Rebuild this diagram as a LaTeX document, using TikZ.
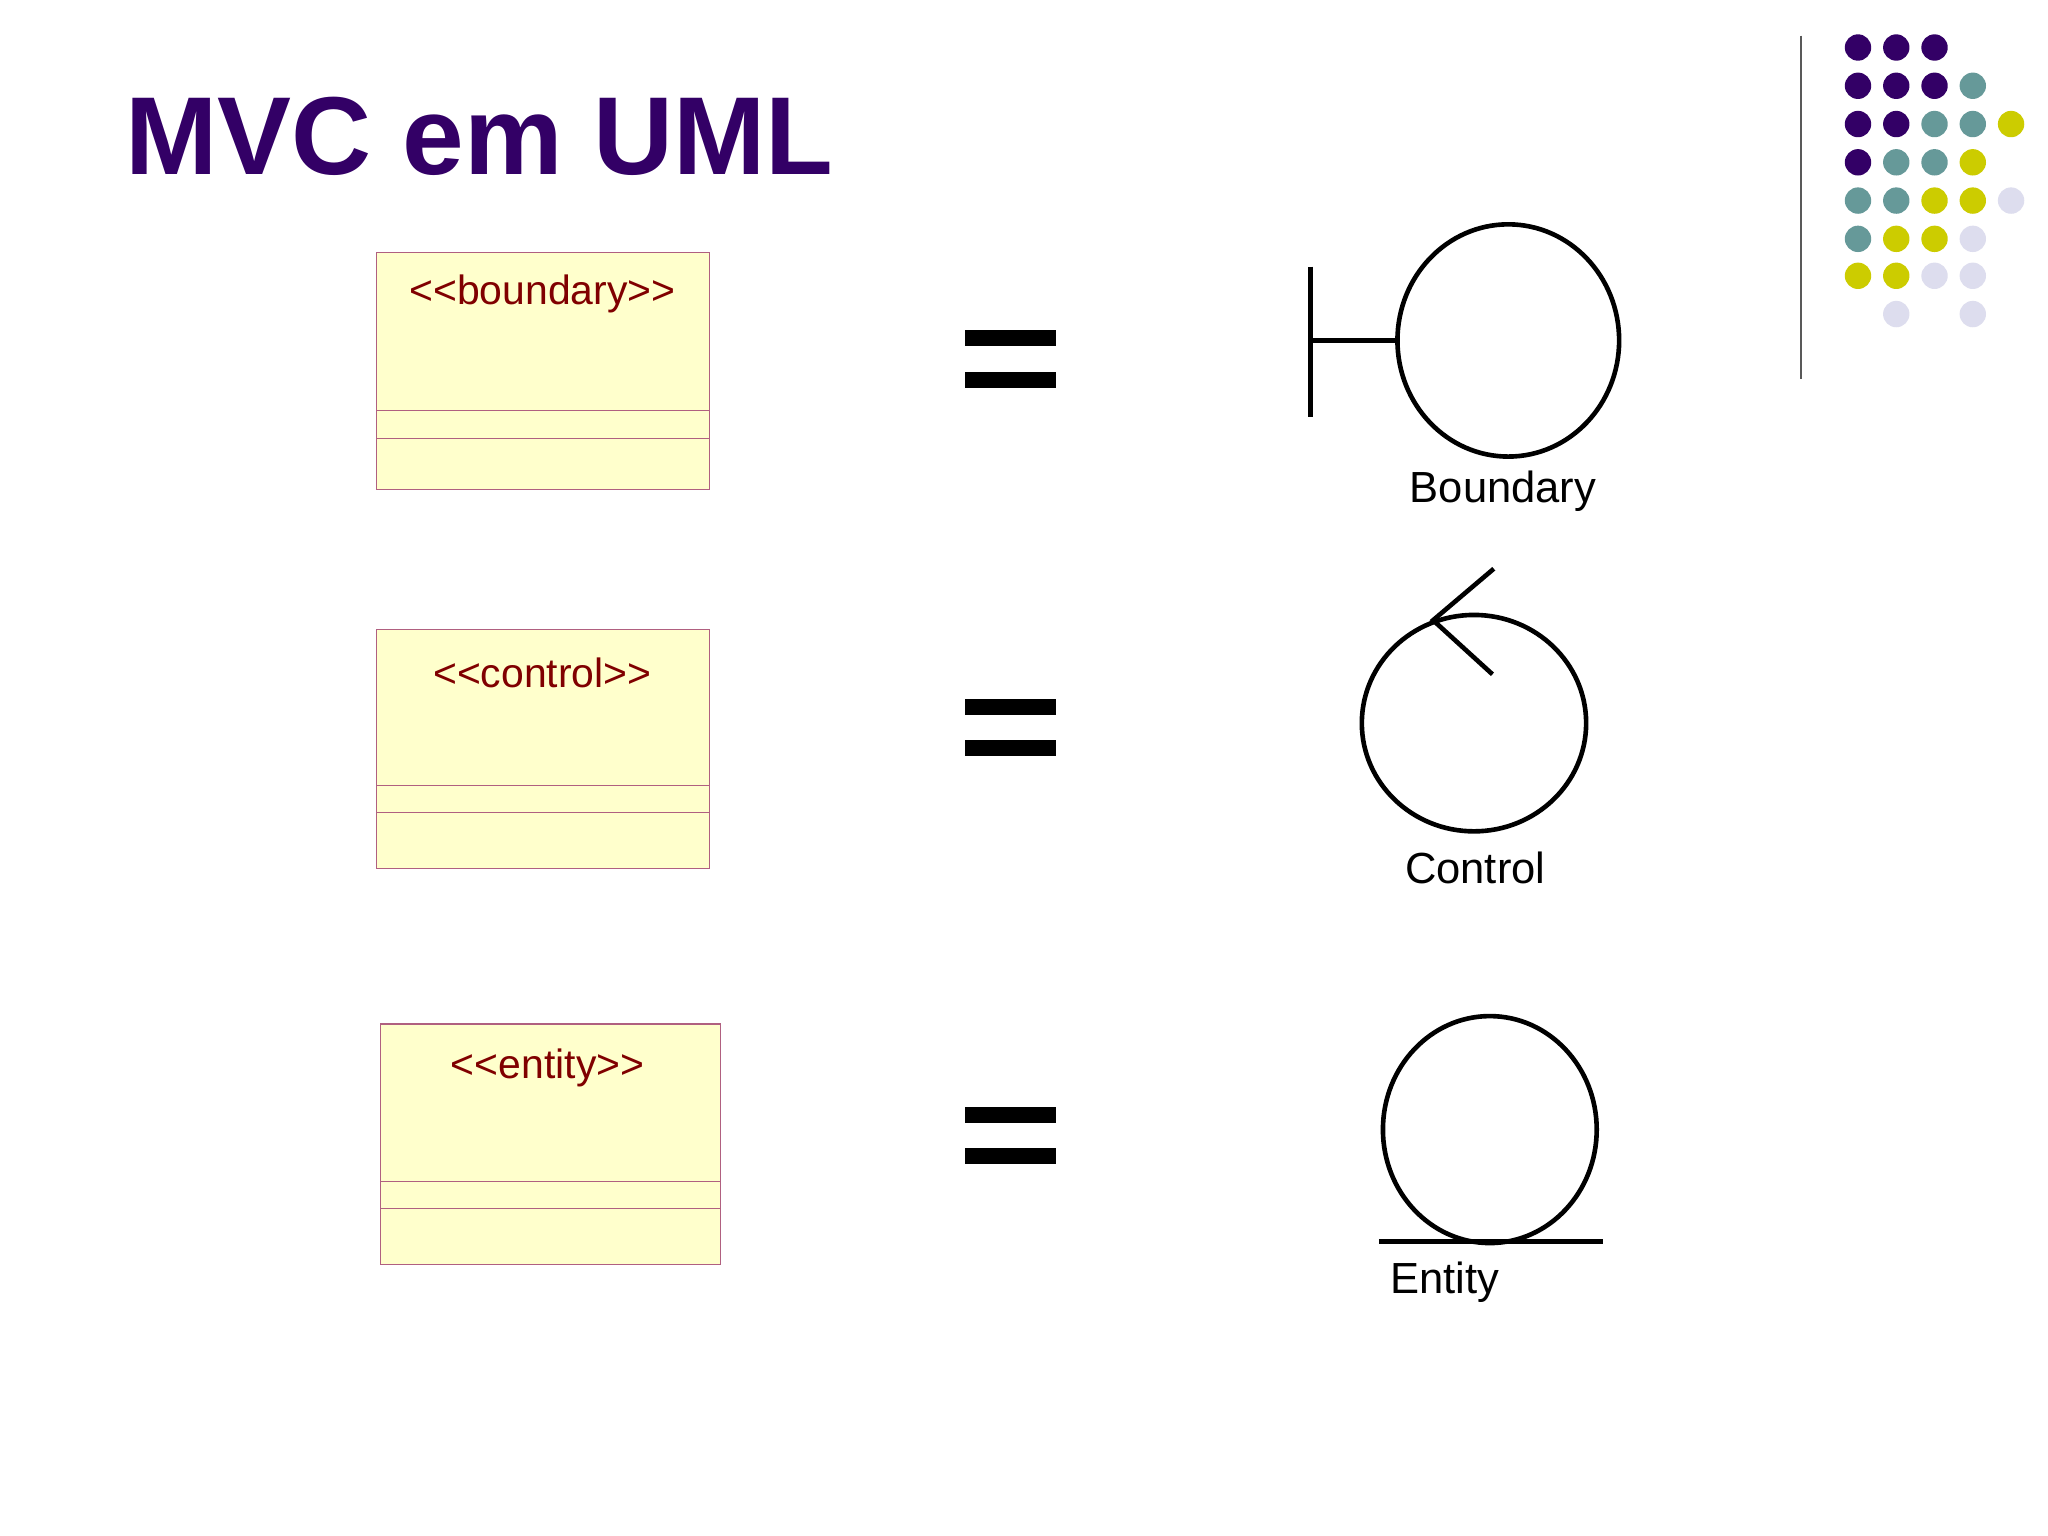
\documentclass[tikz,border=0pt]{standalone}
\usepackage{fontspec}
\setmainfont{Liberation Sans}
\definecolor{pur}{HTML}{330066}
\definecolor{teal2}{HTML}{669999}
\definecolor{yel}{HTML}{CCCC00}
\definecolor{lav}{HTML}{DDDDEE}
\definecolor{boxfill}{HTML}{FFFFCC}
\definecolor{boxline}{HTML}{B06080}
\definecolor{stereo}{HTML}{800000}
\begin{document}
\begin{tikzpicture}[x=1pt,y=-1pt,
 cls/.style={draw=boxline,fill=boxfill,line width=0.8pt},
 sym/.style={line width=3.5pt,black},
 lbl/.style={font=\fontsize{33}{34}\selectfont,text=black},
 st/.style={font=\fontsize{31}{32}\selectfont,text=stereo}]
\useasboundingbox (0,0) rectangle (1552,1164);
\fill[white] (0,0) rectangle (1552,1164);
\node[anchor=base west,font=\fontsize{84}{86}\selectfont\bfseries,text=pur,inner sep=0] (title) at (95,132) {MVC em UML};
% dots
\foreach \x/\y/\c in {1408/36/pur,1437/36/pur,1466/36/pur,
1408/65/pur,1437/65/pur,1466/65/pur,1495/65/teal2,
1408/94/pur,1437/94/pur,1466/94/teal2,1495/94/teal2,1524/94/yel,
1408/123/pur,1437/123/teal2,1466/123/teal2,1495/123/yel,
1408/152/teal2,1437/152/teal2,1466/152/yel,1495/152/yel,1524/152/lav,
1408/181/teal2,1437/181/yel,1466/181/yel,1495/181/lav,
1408/209/yel,1437/209/yel,1466/209/lav,1495/209/lav,
1437/238/lav,1495/238/lav}
 \fill[\c] (\x,\y) circle (10);
\draw[line width=1.2pt,gray!70!black] (1365,27) -- (1365,287);
% class boxes
\draw[cls] (285,191) rectangle (538,371);
\draw[boxline,line width=0.6pt] (285,311) -- (538,311) (285,332) -- (538,332);
\node[st] (s1) at (411,223) {{<}{<}boundary{>}{>}};
\draw[cls] (285,477) rectangle (538,658);
\draw[boxline,line width=0.6pt] (285,595) -- (538,595) (285,616) -- (538,616);
\node[st] (s2) at (411,510) {{<}{<}control{>}{>}};
\draw[cls] (288,776) rectangle (546,958);
\draw[boxline,line width=0.6pt] (288,895) -- (546,895) (288,916) -- (546,916);
\node[st] (s3) at (415,809) {{<}{<}entity{>}{>}};
% equals
\foreach \a/\b in {250/282,530/561,839/870}{
 \fill (731,\a) rectangle (800,\a+12);
 \fill (731,\b) rectangle (800,\b+12);}
% boundary
\draw[sym] (1143,258) ellipse (84 and 88);
\draw[sym] (993,202) -- (993,316);
\draw[sym] (993,258) -- (1059,258);
\node[lbl] (lb) at (1139,372) {Boundary};
% control
\draw[sym] (1117,548) ellipse (85 and 82);
\coordinate (tip) at (1086,470);
\draw[sym] (1132,431) -- (tip) -- (1131,511);
\node[lbl] (lc) at (1118,658) {Control};
% entity
\draw[sym] (1129,856) ellipse (81 and 86);
\draw[sym] (1045,941) -- (1215,941);
\node[lbl,anchor=west] (le) at (1050,972) {Entity};
\end{tikzpicture}
\end{document}
